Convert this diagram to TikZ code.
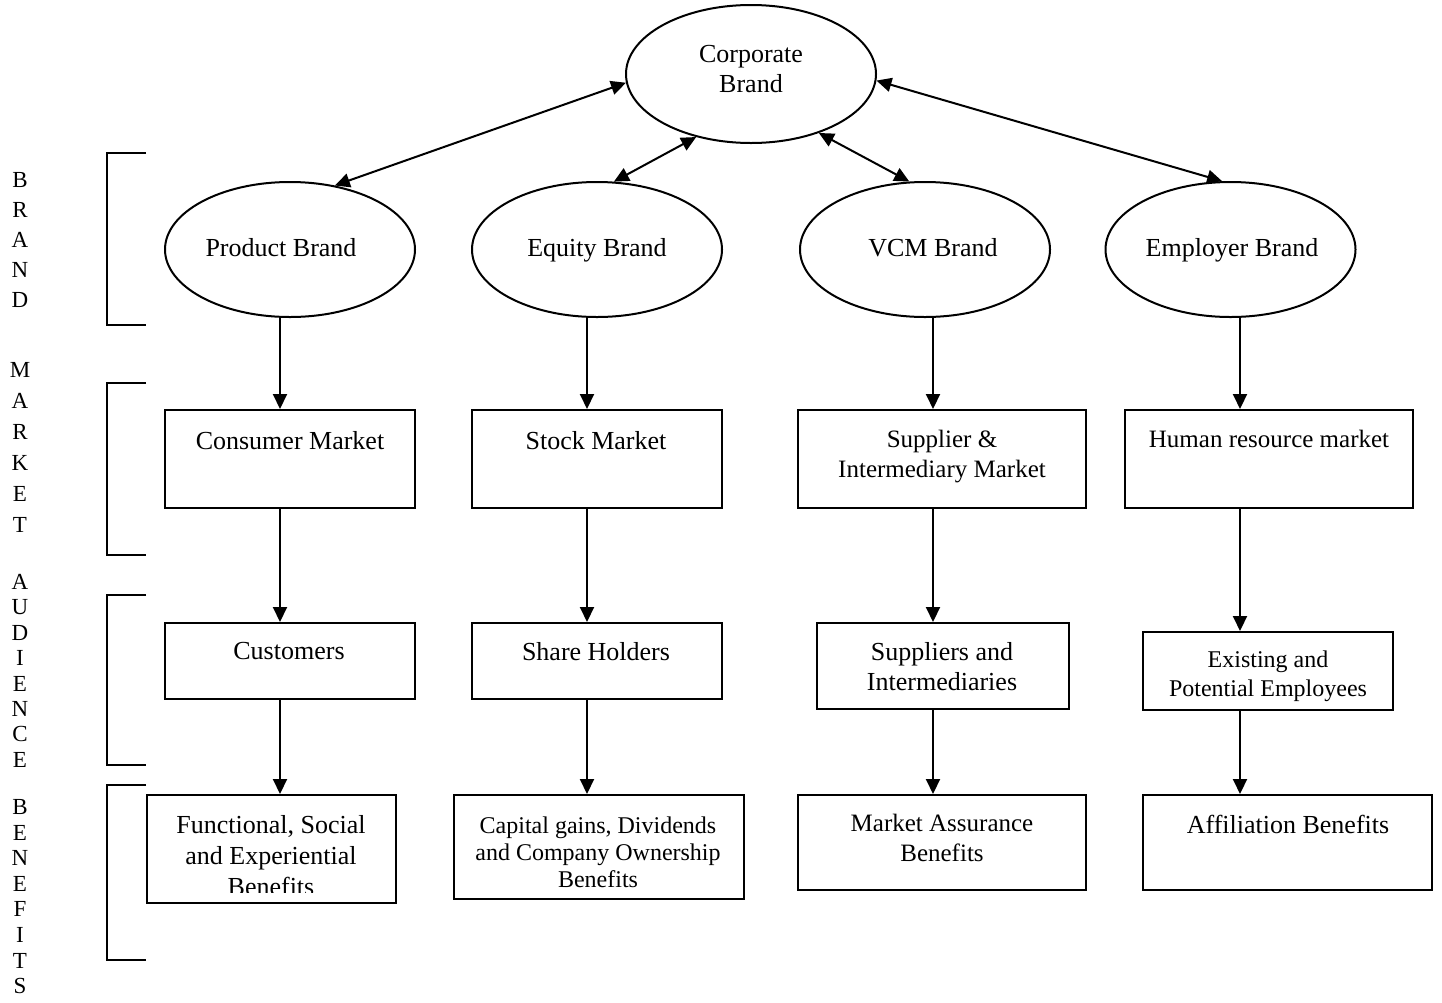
\documentclass[tikz,border=0pt]{standalone}
\usepackage{fontspec}
\setmainfont{Liberation Serif}
\usetikzlibrary{arrows.meta,shapes.geometric,calc}
\begin{document}
\begin{tikzpicture}[x=1pt,y=-1pt,
  lw/.style={line width=2pt},
  ell/.style={draw,lw,ellipse,inner sep=0pt,minimum width=250pt,minimum height=135pt},
  box/.style={draw,lw,rectangle,inner sep=0pt},
  txt/.style={inner sep=0pt,anchor=north,align=center,font=\fontsize{26}{30}\selectfont},
  letter/.style={inner sep=0pt,font=\fontsize{23}{23}\selectfont},
  arr/.style={lw,-{Triangle[length=15pt,width=14pt]}},
  dbl/.style={lw,{Triangle[length=15pt,width=14pt]}-{Triangle[length=15pt,width=14pt]}},
  brk/.style={line width=1.6pt}]
\useasboundingbox (0,0) rectangle (1442,1002);

% column coordinates
\coordinate (c1) at (280,0);
\coordinate (c2) at (587,0);
\coordinate (c3) at (933,0);
\coordinate (c4) at (1240,0);

% brand level
\node[ell,minimum height=138pt] (cb) at (751,74) {};
\node[txt] (cbt) at (751,45) {Corporate\\Brand};
\node[ell] (pb) at (290,249.5) {};
\node[ell] (eb) at (597,249.5) {};
\node[ell] (vb) at (925,249.5) {};
\node[ell] (emb) at (1230.5,249.5) {};
\node[txt] (pbt) at (281,238) {Product Brand};
\node[txt] (ebt) at (597,238) {Equity Brand};
\node[txt] (vbt) at (933,238) {VCM Brand};
\node[txt] (embt) at (1232,238) {Employer Brand};

% market level
\node[box,minimum width=250pt,minimum height=98pt] (cm) at (290,459) {};
\node[box,minimum width=250pt,minimum height=98pt] (sm) at (597,459) {};
\node[box,minimum width=288pt,minimum height=98pt] (im) at (942,459) {};
\node[box,minimum width=288pt,minimum height=98pt] (hm) at (1269,459) {};
\node[txt] (cmt) at (290,431) {Consumer Market};
\node[txt] (smt) at (596,431) {Stock Market};
\node[txt,font=\fontsize{25}{30}\selectfont] (imt) at (942,429.5) {Supplier \&\\Intermediary Market};
\node[txt,font=\fontsize{25}{30}\selectfont] (hmt) at (1269,429.5) {Human resource market};

% audience level
\node[box,minimum width=250pt,minimum height=76pt] (cu) at (290,661) {};
\node[box,minimum width=250pt,minimum height=76pt] (sh) at (597,661) {};
\node[box,minimum width=252pt,minimum height=86pt] (si) at (943,666) {};
\node[box,minimum width=250pt,minimum height=78pt] (ee) at (1268,671) {};
\node[txt] (cut) at (289,642) {Customers};
\node[txt] (sht) at (596,642) {Share Holders};
\node[txt] (sit) at (942,642) {Suppliers and\\Intermediaries};
\node[txt,font=\fontsize{24}{29}\selectfont] (eet) at (1268,650.5) {Existing and\\Potential Employees};

% benefits level
\node[box,minimum width=249pt,minimum height=108pt] (fb) at (271.5,849) {};
\node[box,minimum width=290pt,minimum height=104pt] (cg) at (599,847) {};
\node[box,minimum width=288pt,minimum height=95pt] (ma) at (942,842.5) {};
\node[box,minimum width=289pt,minimum height=95pt] (af) at (1287.5,842.5) {};
\begin{scope}
  \clip (fb.west |- 0,795) rectangle (fb.east |- 0,892);
  \node[txt,font=\fontsize{26}{31}\selectfont] (fbt) at (271,815) {Functional, Social\\and Experiential\\Benefits};
\end{scope}
\node[txt,font=\fontsize{24}{27}\selectfont] (cgt) at (598,816.5) {Capital gains, Dividends\\and Company Ownership\\Benefits};
\node[txt,font=\fontsize{25}{30}\selectfont] (mat) at (942,813.5) {Market Assurance\\Benefits};
\node[txt] (aft) at (1288,815) {Affiliation Benefits};

% double arrows from corporate brand
\draw[dbl] (cb.184) -- (pb.55);
\draw[dbl] (cb.229) -- (eb.76);
\draw[dbl] (cb.319) -- (vb.103);
\draw[dbl] (cb.357) -- (emb.97);

% vertical arrows
\draw[arr] (pb.south -| c1) -- (cm.north -| c1);
\draw[arr] (cm.south -| c1) -- (cu.north -| c1);
\draw[arr] (cu.south -| c1) -- (fb.north -| c1);
\draw[arr] (eb.south -| c2) -- (sm.north -| c2);
\draw[arr] (sm.south -| c2) -- (sh.north -| c2);
\draw[arr] (sh.south -| c2) -- (cg.north -| c2);
\draw[arr] (vb.south -| c3) -- (im.north -| c3);
\draw[arr] (im.south -| c3) -- (si.north -| c3);
\draw[arr] (si.south -| c3) -- (ma.north -| c3);
\draw[arr] (emb.south -| c4) -- (hm.north -| c4);
\draw[arr] (hm.south -| c4) -- (ee.north -| c4);
\draw[arr] (ee.south -| c4) -- (af.north -| c4);

% brackets
\draw[brk] (146,153) -- (107,153) -- (107,325) -- (146,325);
\draw[brk] (146,383) -- (107,383) -- (107,555) -- (146,555);
\draw[brk] (146,595) -- (107,595) -- (107,765) -- (146,765);
\draw[brk] (146,785) -- (107,785) -- (107,960) -- (146,960);

% side letters
\foreach \l [count=\i] in {B,R,A,N,D}
  \node[letter] (lb\i) at (20,{180+30*(\i-1)}) {\l};
\foreach \l [count=\i] in {M,A,R,K,E,T}
  \node[letter] (lm\i) at (20,{370+31*(\i-1)}) {\l};
\foreach \l [count=\i] in {A,U,D,I,E,N,C,E}
  \node[letter] (la\i) at (20,{582+25.4*(\i-1)}) {\l};
\foreach \l [count=\i] in {B,E,N,E,F,I,T,S}
  \node[letter] (lf\i) at (20,{807+25.6*(\i-1)}) {\l};
\end{tikzpicture}
\end{document}
